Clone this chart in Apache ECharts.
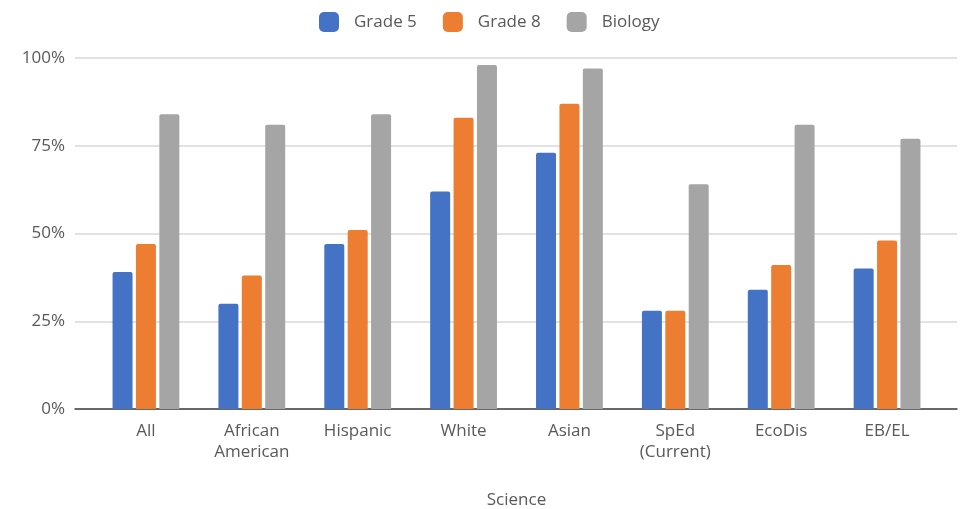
<!DOCTYPE html>
<html>
<head>
<meta charset="utf-8">
<script src="https://cdn.jsdelivr.net/npm/echarts@6/dist/echarts.min.js"></script>
<style>
html, body { margin: 0; padding: 0; background: #fff; }
#chart { width: 961px; height: 509px; }
</style>
</head>
<body>
<div id="chart"></div>
<script>
var categories = ['All', 'African\nAmerican', 'Hispanic', 'White', 'Asian', 'SpEd\n(Current)', 'EcoDis', 'EB/EL'];
var grade5 = [39, 30, 47, 62, 73, 28, 34, 40];
var grade8 = [47, 38, 51, 83, 87, 28, 41, 48];
var biology = [84, 81, 84, 98, 97, 64, 81, 77];
var yTicks = [0, 25, 50, 75, 100];

var fontFam = '"Open Sans", "Noto Sans", sans-serif';
var labelColor = '#595959';
var myChart = echarts.init(document.getElementById('chart'));

// grid 0: gridlines + axis line (wide), grid 1: the bars (inset like the Excel plot area)
var option = {
	animation: false,
	color: ['#4472C4', '#ED7D31', '#A5A5A5'],
	textStyle: { fontFamily: fontFam },
	legend: {
		top: 7,
		left: 314,
		itemWidth: 20,
		itemHeight: 20,
		itemGap: 26,
		icon: 'roundRect',
		textStyle: { fontSize: 17, color: labelColor, fontFamily: fontFam, padding: [0, 0, 0, 10] }
	},
	grid: [
		{ left: 75, right: 4, top: 58, bottom: 100, outerBoundsMode: 'none' },
		{ left: 93, right: 21, top: 58, bottom: 100, outerBoundsMode: 'none' }
	],
	xAxis: [
		{
			type: 'category',
			gridIndex: 0,
			data: categories,
			axisTick: { show: false },
			axisLabel: { show: false },
			axisLine: { lineStyle: { color: '#404040', width: 1.5 } }
		},
		{
			type: 'category',
			gridIndex: 1,
			data: categories,
			name: 'Science',
			nameLocation: 'middle',
			nameGap: 83,
			nameTextStyle: { fontSize: 17, color: labelColor },
			axisTick: { show: false },
			axisLine: { show: false },
			axisLabel: { fontSize: 17, color: labelColor, margin: 12, lineHeight: 21, interval: 0 }
		}
	],
	yAxis: [
		{
			type: 'value',
			gridIndex: 0,
			min: yTicks[0],
			max: yTicks[yTicks.length - 1],
			interval: 25,
			axisLine: { show: false },
			axisTick: { show: false },
			splitLine: { lineStyle: { color: '#D9D9D9', width: 1.5 } },
			axisLabel: { fontSize: 17, color: labelColor, margin: 10, formatter: '{value}%' }
		},
		{
			type: 'value',
			gridIndex: 1,
			min: yTicks[0],
			max: yTicks[yTicks.length - 1],
			interval: 25,
			show: false,
			splitLine: { show: false }
		}
	],
	series: [
		{ name: 'Grade 5', type: 'bar', xAxisIndex: 1, yAxisIndex: 1, data: grade5, barWidth: 20, barGap: '17%', itemStyle: { borderRadius: [2, 2, 0, 0] } },
		{ name: 'Grade 8', type: 'bar', xAxisIndex: 1, yAxisIndex: 1, data: grade8, barWidth: 20, barGap: '17%', itemStyle: { borderRadius: [2, 2, 0, 0] } },
		{ name: 'Biology', type: 'bar', xAxisIndex: 1, yAxisIndex: 1, data: biology, barWidth: 20, barGap: '17%', itemStyle: { borderRadius: [2, 2, 0, 0] } }
	]
};
myChart.setOption(option);
</script>
</body>
</html>
